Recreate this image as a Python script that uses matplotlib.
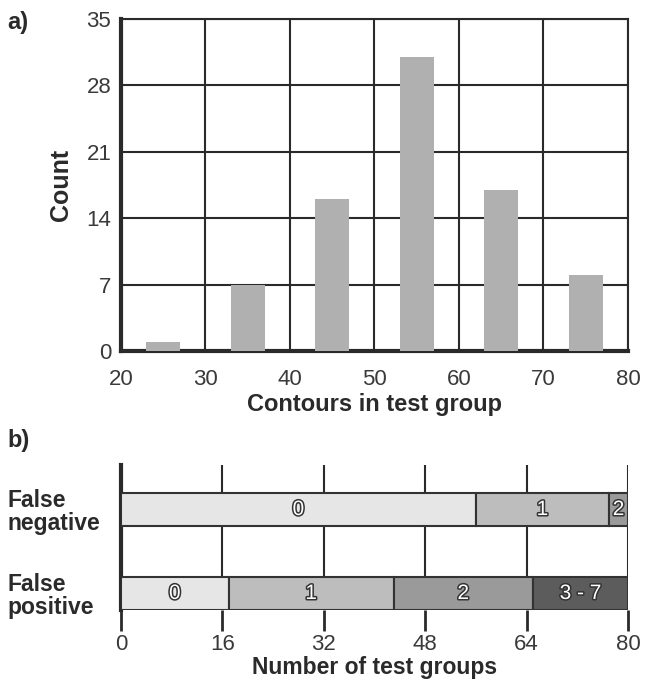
import matplotlib
matplotlib.use("Agg")
import matplotlib.pyplot as plt
import matplotlib.patheffects as pe

# ---- data ----
hist_centers = [25, 35, 45, 55, 65, 75]
hist_counts = [1, 7, 16, 31, 17, 8]
hist_yticks = [0, 7, 14, 21, 28, 35]
hist_xticks = [20, 30, 40, 50, 60, 70, 80]

categories = ["False\nnegative", "False\npositive"]
fn_labels = ["0", "1", "2"]
fn_values = [56, 21, 3]
fp_labels = ["0", "1", "2", "3 - 7"]
fp_values = [17, 26, 22, 15]
bar_xticks = [0, 16, 32, 48, 64, 80]

seg_colors = ["#e6e6e6", "#bdbdbd", "#9a9a9a", "#5c5c5c"]

font = "Liberation Sans"
dark = "#2a2a2a"
tick_col = "#3a3a3a"

fig = plt.figure(figsize=(6.46, 6.95), dpi=100)

# ---- panel a ----
ax1 = fig.add_axes([121/646, 1-351/695, (628-121)/646, (351-19)/695])
ax1.bar(hist_centers, hist_counts, width=4, color="#b0b0b0", zorder=3)
ax1.set_xlim(20, 80)
ax1.set_ylim(0, 35)
ax1.set_xticks(hist_xticks)
ax1.set_yticks(hist_yticks)
ax1.grid(True, color=dark, linewidth=1.5, zorder=0)
ax1.set_axisbelow(True)
for s in ["top", "right"]:
    ax1.spines[s].set_linewidth(1.5)
    ax1.spines[s].set_color(dark)
for s in ["left", "bottom"]:
    ax1.spines[s].set_linewidth(3)
    ax1.spines[s].set_color(dark)
ax1.tick_params(axis="x", length=0, pad=13, labelsize=16, colors=tick_col)
ax1.tick_params(axis="y", length=0, pad=7, labelsize=16, colors=tick_col)
for lab in ax1.get_xticklabels() + ax1.get_yticklabels():
    lab.set_fontfamily(font)
ax1.set_xlabel("Contours in test group", fontsize=17, fontweight="bold",
               family=font, color=dark, labelpad=2)
ax1.set_ylabel("Count", fontsize=18, fontweight="bold", family=font,
               color=dark, labelpad=10)
fig.text(7/646, 1-22/695, "a)", fontsize=17, fontweight="bold", family=font,
         color=dark, va="center", ha="left")

# ---- panel b ----
ax2 = fig.add_axes([121/646, 1-610/695, (628-121)/646, (610-465)/695])
ax2.set_xlim(0, 80)
ax2.set_ylim(0, 1)
bar_h = 0.228
ypos = [0.693, 0.114]
stroke = [pe.withStroke(linewidth=2.2, foreground="#333333")]

for vals, labs, y in [(fn_values, fn_labels, ypos[0]), (fp_values, fp_labels, ypos[1])]:
    left = 0
    for i, (v, l) in enumerate(zip(vals, labs)):
        ax2.barh(y, v, left=left, height=bar_h, color=seg_colors[i],
                 edgecolor="#333333", linewidth=1.5, zorder=3)
        ax2.text(left + v/2, y, l, ha="center", va="center", fontsize=15,
                 family=font, color="white", path_effects=stroke, zorder=4)
        left += v

ax2.set_xticks(bar_xticks)
ax2.xaxis.grid(True, color=dark, linewidth=1.5, zorder=0)
ax2.set_axisbelow(True)
ax2.set_yticks(ypos)
ax2.set_yticklabels(categories)
for lab in ax2.get_yticklabels():
    lab.set_fontfamily(font)
    lab.set_fontweight("bold")
    lab.set_fontsize(16.5)
    lab.set_horizontalalignment("left")
    lab.set_linespacing(1.0)
    lab.set_color(dark)
ax2.tick_params(axis="y", length=0, pad=(121-7)*72/100)
ax2.tick_params(axis="x", direction="out", length=15, width=2, colors=dark,
                labelsize=16, pad=2)
for lab in ax2.get_xticklabels():
    lab.set_fontfamily(font)
    lab.set_color(tick_col)
for s in ["top", "right", "bottom"]:
    ax2.spines[s].set_visible(False)
ax2.spines["left"].set_linewidth(3)
ax2.spines["left"].set_color(dark)
ax2.set_xlabel("Number of test groups", fontsize=16.5, fontweight="bold",
               family=font, color=dark, labelpad=1)
fig.text(7/646, 1-440/695, "b)", fontsize=17, fontweight="bold",
         family=font, color=dark, va="center", ha="left")

fig.savefig("out.png", dpi=100)
